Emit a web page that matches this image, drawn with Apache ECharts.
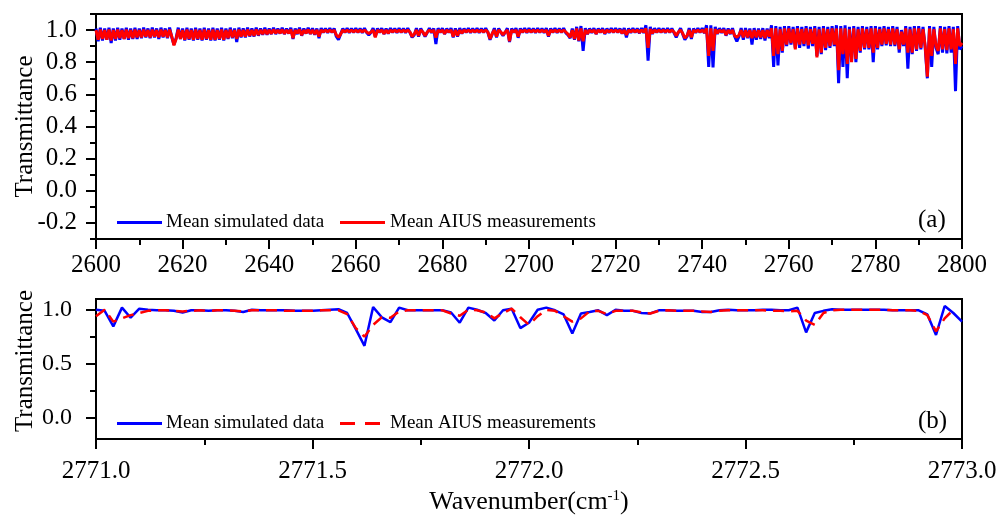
<!DOCTYPE html>
<html>
<head>
<meta charset="utf-8">
<script src="https://cdn.jsdelivr.net/npm/echarts@6/dist/echarts.min.js"></script>
<style>
html,body{margin:0;padding:0;background:#fff;}
#chart{width:1006px;height:515px;}
</style>
</head>
<body>
<div id="chart"></div>
<script>
// ---------- Panel (a): 2600-2800 cm-1, sampled every 0.5 cm-1 (rows of 10 cm-1) ----------
const xStartA = 2600;
const xStepA = 0.5;
const simRowsA = [
 [1.01,0.93,1.015,0.935,1.01,0.94,1.015,0.92,1.01,0.935,1.015,0.94,1.01,0.945,1.015,0.94,1.01,0.945,1.015,0.945],
 [1.01,0.95,1.015,0.955,1.01,0.95,1.015,0.955,1.01,0.945,1.015,0.955,1.01,0.95,1.015,0.955,0.91,0.95,1.015,0.945],
 [1.01,0.935,1.015,0.94,1.01,0.935,1.015,0.94,1.01,0.935,1.015,0.94,1.01,0.935,1.015,0.935,1.01,0.94,1.015,0.935],
 [1.01,0.945,1.015,0.95,1.01,0.925,1.015,0.955,1.01,0.955,1.015,0.96,1.01,0.96,1.015,0.965,1.01,0.97,1.015,0.97],
 [1.01,0.975,1.015,0.975,1.01,0.978,1.015,0.975,1.01,0.978,1.015,0.945,1.01,0.975,1.015,0.965,1.01,0.978,1.015,0.975],
 [1.012,0.97,1.01,0.95,1.012,0.985,1.01,0.983,1.012,0.985,1.01,0.96,0.94,0.975,1.01,0.985,1.012,0.983,1.01,0.985],
 [1.012,0.985,1.01,0.983,1.012,0.985,0.97,0.985,1.012,0.96,1.01,0.985,1.012,0.975,1.01,0.978,1.012,0.985,1.01,0.983],
 [1.012,0.985,1.01,0.983,1.012,0.985,0.955,0.97,1.012,0.96,1.01,0.985,0.96,0.985,1.012,0.983,1.01,0.913,1.012,0.985],
 [1.012,0.975,1.01,0.985,1.012,0.955,1.01,0.96,1.012,0.978,1.01,0.985,1.012,0.983,1.01,0.985,1.012,0.983,1.01,0.985],
 [1.012,0.985,0.94,0.975,1.012,0.955,1.01,0.985,0.965,0.985,1.012,0.925,1.01,0.985,1.012,0.952,1.01,0.985,1.012,0.983],
 [1.012,0.985,1.01,0.983,1.012,0.985,1.01,0.983,1.012,0.96,1.01,0.985,1.012,0.983,1.01,0.985,1.012,0.983,0.97,0.95],
 [1.01,0.94,1.02,0.93,1.025,0.87,1.012,0.975,1.01,0.983,1.012,0.975,1.01,0.985,1.012,0.975,1.01,0.983,1.012,0.985],
 [1.012,0.985,1.01,0.978,1.012,0.955,1.01,0.983,1.012,0.985,1.01,0.98,1.012,0.983,1.03,0.81,1.02,0.975,1.012,0.985],
 [1.012,0.985,1.01,0.983,1.012,0.985,1.01,0.983,0.955,0.985,1.012,0.975,0.94,0.96,1.012,0.945,1.01,0.983,1.012,0.985],
 [1.012,0.98,1.03,0.77,1.03,0.767,1.02,0.975,1.012,0.983,1.012,0.965,1.01,0.975,1.012,0.96,0.93,0.96,1.012,0.94],
 [1.012,0.95,1.01,0.91,1.012,0.94,1.01,0.945,1.012,0.935,1.01,0.95,1.03,0.77,1.025,0.78,1.02,0.86,1.025,0.9],
 [1.025,0.91,1.02,0.89,1.025,0.89,1.02,0.9,1.025,0.885,1.02,0.9,1.025,0.84,1.02,0.85,1.025,0.875,1.02,0.89],
 [1.025,0.9,1.03,0.67,1.025,0.77,1.03,0.7,1.02,0.82,1.025,0.8,1.02,0.86,1.025,0.88,1.02,0.88,1.025,0.8],
 [1.025,0.88,1.02,0.9,1.025,0.905,1.02,0.9,1.025,0.9,1.02,0.86,1.0,0.9,1.025,0.76,1.02,0.85,1.025,0.87],
 [1.025,0.88,1.02,0.89,0.70,1.025,0.77,1.02,0.89,0.85,1.025,0.86,1.02,0.855,1.025,0.86,1.02,0.62,1.025,0.88],
 [0.9]
];
const aiusRowsA = [
 [1.0,0.94,1.003,0.945,1.0,0.94,1.003,0.935,1.0,0.945,1.003,0.95,1.0,0.945,1.003,0.95,1.0,0.95,1.003,0.955],
 [1.0,0.955,1.003,0.96,1.0,0.955,1.003,0.96,1.0,0.955,1.003,0.96,1.0,0.955,1.003,0.96,0.905,0.945,1.003,0.945],
 [1.0,0.94,1.003,0.945,1.0,0.94,1.003,0.945,1.0,0.94,1.003,0.945,1.0,0.94,1.003,0.94,1.0,0.945,1.003,0.94],
 [1.0,0.95,1.003,0.955,1.0,0.945,1.003,0.96,1.0,0.96,1.003,0.965,1.0,0.965,1.003,0.97,1.0,0.975,1.003,0.975],
 [1.0,0.978,1.003,0.98,1.0,0.98,1.003,0.978,1.0,0.98,1.003,0.95,1.0,0.98,1.003,0.968,1.0,0.98,1.003,0.978],
 [1.0,0.975,1.0,0.96,1.0,0.988,1.0,0.988,1.0,0.988,1.0,0.97,0.955,0.975,1.0,0.988,1.0,0.988,1.0,0.988],
 [1.0,0.988,1.0,0.988,1.0,0.988,0.978,0.988,1.0,0.955,1.0,0.988,1.0,0.978,1.0,0.98,1.0,0.988,1.0,0.988],
 [1.0,0.988,1.0,0.988,1.0,0.988,0.96,0.975,1.0,0.965,1.0,0.988,0.965,0.988,1.0,0.988,1.0,0.954,1.0,0.988],
 [1.0,0.978,1.0,0.988,1.0,0.96,1.0,0.965,1.0,0.98,1.0,0.988,1.0,0.988,1.0,0.988,1.0,0.988,1.0,0.988],
 [1.0,0.988,0.945,0.978,1.0,0.96,1.0,0.988,0.97,0.988,1.0,0.93,1.0,0.988,1.0,0.96,1.0,0.988,1.0,0.988],
 [1.0,0.988,1.0,0.988,1.0,0.988,1.0,0.988,1.0,0.965,1.0,0.988,1.0,0.988,1.0,0.988,1.0,0.988,0.975,0.955],
 [1.0,0.945,1.01,0.935,1.01,0.93,1.0,0.978,1.0,0.988,1.0,0.978,1.0,0.988,1.0,0.98,1.0,0.988,1.0,0.988],
 [1.0,0.988,1.0,0.98,1.0,0.97,1.0,0.988,1.0,0.988,1.0,0.985,1.0,0.988,1.01,0.89,1.005,0.98,1.0,0.988],
 [1.0,0.988,1.0,0.988,1.0,0.988,1.0,0.988,0.965,0.988,1.0,0.98,0.95,0.965,1.0,0.955,1.0,0.988,1.0,0.988],
 [1.0,0.985,1.01,0.84,1.01,0.87,1.005,0.98,1.0,0.988,1.0,0.97,1.0,0.98,1.0,0.965,0.955,0.97,1.0,0.955],
 [1.0,0.955,1.0,0.95,1.0,0.955,1.0,0.955,1.0,0.95,1.0,0.96,1.01,0.84,1.01,0.85,1.005,0.87,1.01,0.91],
 [1.01,0.92,1.005,0.88,1.01,0.91,1.005,0.915,1.01,0.905,1.005,0.915,1.01,0.83,1.005,0.86,1.01,0.89,1.005,0.9],
 [1.01,0.91,1.01,0.75,1.01,0.85,1.01,0.79,1.005,0.8,1.01,0.82,1.005,0.87,1.01,0.89,1.005,0.89,1.01,0.86],
 [1.01,0.89,1.005,0.91,1.01,0.915,1.005,0.91,1.01,0.91,1.005,0.88,0.99,0.91,1.01,0.86,1.005,0.86,1.01,0.88],
 [1.01,0.89,1.005,0.9,0.71,1.01,0.84,1.005,0.9,0.87,1.01,0.88,1.005,0.875,1.01,0.88,1.005,0.79,1.01,0.9],
 [0.92]
];

// ---------- Panel (b): 2771-2773 cm-1, sampled every 0.02 cm-1 ----------
const xStartB = 2771;
const xStepB = 0.02;
const simB = [
 1.0,0.99,0.846,1.02,0.926,1.01,1.0,0.995,0.995,0.99,
 0.975,0.995,0.995,0.99,0.995,0.995,0.99,0.98,1.0,0.995,
 0.995,0.995,0.995,0.99,0.99,0.99,0.995,1.0,1.005,0.97,
 0.82,0.665,1.025,0.93,0.886,1.02,0.995,0.995,0.995,0.995,
 0.995,0.975,0.88,1.02,1.0,0.97,0.9,0.995,1.01,0.83,
 0.88,1.0,1.02,0.995,0.957,0.78,0.966,0.98,0.995,0.95,
 1.0,0.99,0.99,0.97,0.966,0.995,0.995,0.99,0.99,0.99,
 0.98,0.98,0.995,1.0,0.995,0.995,0.995,1.0,1.0,0.995,
 0.995,1.02,0.79,0.97,0.99,1.005,1.0,1.0,1.0,1.0,
 1.0,1.0,0.995,0.995,0.995,0.995,0.957,0.766,1.035,0.97,
 0.89
];
const aiusB = [
 0.94,1.0,0.89,0.92,0.95,0.97,0.99,0.995,0.995,0.99,
 0.985,0.99,0.995,0.99,0.995,0.995,0.99,0.985,0.995,0.995,
 0.995,0.995,0.99,0.99,0.99,0.99,0.995,0.995,0.995,0.96,
 0.83,0.75,0.86,0.93,0.925,0.985,0.995,0.995,0.995,0.995,
 0.995,0.965,0.945,1.0,0.995,0.975,0.92,0.97,1.01,0.93,
 0.86,0.94,1.0,0.99,0.94,0.89,0.92,0.985,0.99,0.96,
 0.99,0.99,0.99,0.975,0.965,0.99,0.995,0.99,0.99,0.99,
 0.985,0.98,0.99,0.995,0.995,0.995,0.995,0.995,0.99,0.99,
 0.985,0.99,0.9,0.86,0.97,0.995,1.0,1.0,1.0,1.0,
 1.0,1.0,0.995,0.995,0.995,0.99,0.95,0.8,0.92,1.0
];

const yMajorA = [-0.2, 0.0, 0.2, 0.4, 0.6, 0.8, 1.0];
const yMajorB = [0.0, 0.5, 1.0];
const yMinorB = [0.25, 0.75];

const nameSim = 'Mean simulated data';
const nameAius = 'Mean AIUS measurements';

function toPairs(values, x0, step) {
  return values.map((v, i) => [+(x0 + i * step).toFixed(4), v]);
}
const simA = simRowsA.flat();
const aiusA = aiusRowsA.flat();

const FONT = 'Liberation Serif';
const BLUE = '#0000ff';
const RED = '#ff0000';
const axisLineStyle = { show: true, onZero: false, lineStyle: { color: '#000', width: 2 } };
const tickStyle = { color: '#000', width: 2 };
const labelStyle = { fontFamily: FONT, fontSize: 25, color: '#000' };

const ICON_SOLID = 'path://M0,0H45V3H0Z';
const ICON_DASH = 'path://M0,0H15V3H0Z M25,0H40V3H25Z';

const chart = echarts.init(document.getElementById('chart'), null, { renderer: 'canvas' });

const option = {
  animation: false,
  backgroundColor: '#fff',
  grid: [
    { left: 96, right: 44, top: 14, height: 225, show: true, borderColor: '#000', borderWidth: 2,
      backgroundColor: 'transparent', containLabel: false, outerBoundsMode: 'none' },
    { left: 96, right: 44, top: 299, height: 140, show: true, borderColor: '#000', borderWidth: 2,
      backgroundColor: 'transparent', containLabel: false, outerBoundsMode: 'none' }
  ],
  xAxis: [
    {
      type: 'value', gridIndex: 0, min: 2600, max: 2800, interval: 20,
      axisLine: axisLineStyle,
      axisTick: { show: true, length: 10, lineStyle: tickStyle },
      minorTick: { show: true, splitNumber: 2, length: 6, lineStyle: tickStyle },
      splitLine: { show: false },
      axisLabel: Object.assign({ margin: 14, formatter: v => String(v) }, labelStyle)
    },
    {
      type: 'value', gridIndex: 1, min: 2771, max: 2773, interval: 0.5,
      axisLine: axisLineStyle,
      axisTick: { show: true, length: 10, lineStyle: tickStyle },
      minorTick: { show: true, splitNumber: 2, length: 6, lineStyle: tickStyle },
      splitLine: { show: false },
      axisLabel: Object.assign({ margin: 20, formatter: v => v.toFixed(1) }, labelStyle),
      name: 'Wavenumber(cm{sup|-1})',
      nameLocation: 'middle',
      nameGap: 50,
      nameMoveOverlap: false,
      nameTextStyle: {
        fontFamily: FONT, fontSize: 26, color: '#000',
        rich: { sup: { fontFamily: FONT, fontSize: 15, color: '#000', verticalAlign: 'bottom', padding: [0, 0, 12, 0] } }
      }
    }
  ],
  yAxis: [
    {
      type: 'value', gridIndex: 0, min: -0.3, max: 1.1, position: 'left',
      axisLine: axisLineStyle,
      axisTick: { show: true, length: 10, lineStyle: tickStyle, customValues: yMajorA },
      splitLine: { show: false },
      axisLabel: Object.assign({ margin: 19, customValues: yMajorA, formatter: v => v.toFixed(1) }, labelStyle),
      name: 'Transmittance', nameLocation: 'middle', nameRotate: 90, nameGap: 58, nameMoveOverlap: false,
      nameTextStyle: { fontFamily: FONT, fontSize: 25, color: '#000' }
    },
    {
      type: 'value', gridIndex: 0, min: -0.3, max: 1.1, interval: 0.1, position: 'left',
      axisLine: { show: false, onZero: false },
      axisTick: { show: true, length: 6, lineStyle: tickStyle },
      splitLine: { show: false },
      axisLabel: { show: false }
    },
    {
      type: 'value', gridIndex: 1, min: -0.2, max: 1.1, position: 'left',
      axisLine: axisLineStyle,
      axisTick: { show: true, length: 10, lineStyle: tickStyle, customValues: yMajorB },
      splitLine: { show: false },
      axisLabel: Object.assign({ margin: 24, customValues: yMajorB, formatter: v => v.toFixed(1) }, labelStyle, { fontSize: 24 }),
      name: 'Transmittance', nameLocation: 'middle', nameRotate: 90, nameGap: 58, nameMoveOverlap: false,
      nameTextStyle: { fontFamily: FONT, fontSize: 25, color: '#000', padding: [0, 0, 0, 16] }
    },
    {
      type: 'value', gridIndex: 1, min: -0.2, max: 1.1, position: 'left',
      axisLine: { show: false, onZero: false },
      axisTick: { show: true, length: 6, lineStyle: tickStyle, customValues: yMinorB },
      splitLine: { show: false },
      axisLabel: { show: false, customValues: yMinorB }
    }
  ],
  legend: [
    { data: [nameSim], left: 117, top: 213, padding: 0, itemWidth: 45, itemHeight: 3, selectedMode: false,
      icon: ICON_SOLID, itemStyle: { color: BLUE },
      textStyle: { fontFamily: FONT, fontSize: 19, color: '#000', padding: [0, 0, 0, -1] } },
    { data: [nameAius], left: 340, top: 213, padding: 0, itemWidth: 45, itemHeight: 3, selectedMode: false,
      icon: ICON_SOLID, itemStyle: { color: RED },
      textStyle: { fontFamily: FONT, fontSize: 19, color: '#000' } },
    { data: ['simB'], left: 117, top: 414, padding: 0, itemWidth: 45, itemHeight: 3, selectedMode: false,
      icon: ICON_SOLID, itemStyle: { color: BLUE },
      formatter: () => nameSim,
      textStyle: { fontFamily: FONT, fontSize: 19, color: '#000', padding: [0, 0, 0, -1] } },
    { data: ['aiusB'], left: 340, top: 414, padding: 0, itemWidth: 40, itemHeight: 3, selectedMode: false,
      icon: ICON_DASH, itemStyle: { color: RED },
      formatter: () => nameAius,
      textStyle: { fontFamily: FONT, fontSize: 19, color: '#000', padding: [0, 0, 0, 5] } }
  ],
  graphic: [
    { type: 'text', left: 918, top: 208, style: { text: '(a)', font: '25px "Liberation Serif"', fill: '#000' } },
    { type: 'text', left: 918, top: 409, style: { text: '(b)', font: '25px "Liberation Serif"', fill: '#000' } }
  ],
  series: [
    { name: nameSim, type: 'line', xAxisIndex: 0, yAxisIndex: 0, showSymbol: false, symbol: 'none',
      data: toPairs(simA, xStartA, xStepA), lineStyle: { color: BLUE, width: 3 }, itemStyle: { color: BLUE }, z: 2 },
    { name: nameAius, type: 'line', xAxisIndex: 0, yAxisIndex: 0, showSymbol: false, symbol: 'none',
      data: toPairs(aiusA, xStartA, xStepA), lineStyle: { color: RED, width: 3 }, itemStyle: { color: RED }, z: 3 },
    { name: 'simB', type: 'line', xAxisIndex: 1, yAxisIndex: 2, showSymbol: false, symbol: 'none',
      data: toPairs(simB, xStartB, xStepB), lineStyle: { color: BLUE, width: 2.5 }, itemStyle: { color: BLUE }, z: 2 },
    { name: 'aiusB', type: 'line', xAxisIndex: 1, yAxisIndex: 2, showSymbol: false, symbol: 'none',
      data: toPairs(aiusB, xStartB, xStepB), lineStyle: { color: RED, width: 2.5, type: [11, 7] }, itemStyle: { color: RED }, z: 3 }
  ]
};
chart.setOption(option);
</script>
</body>
</html>
